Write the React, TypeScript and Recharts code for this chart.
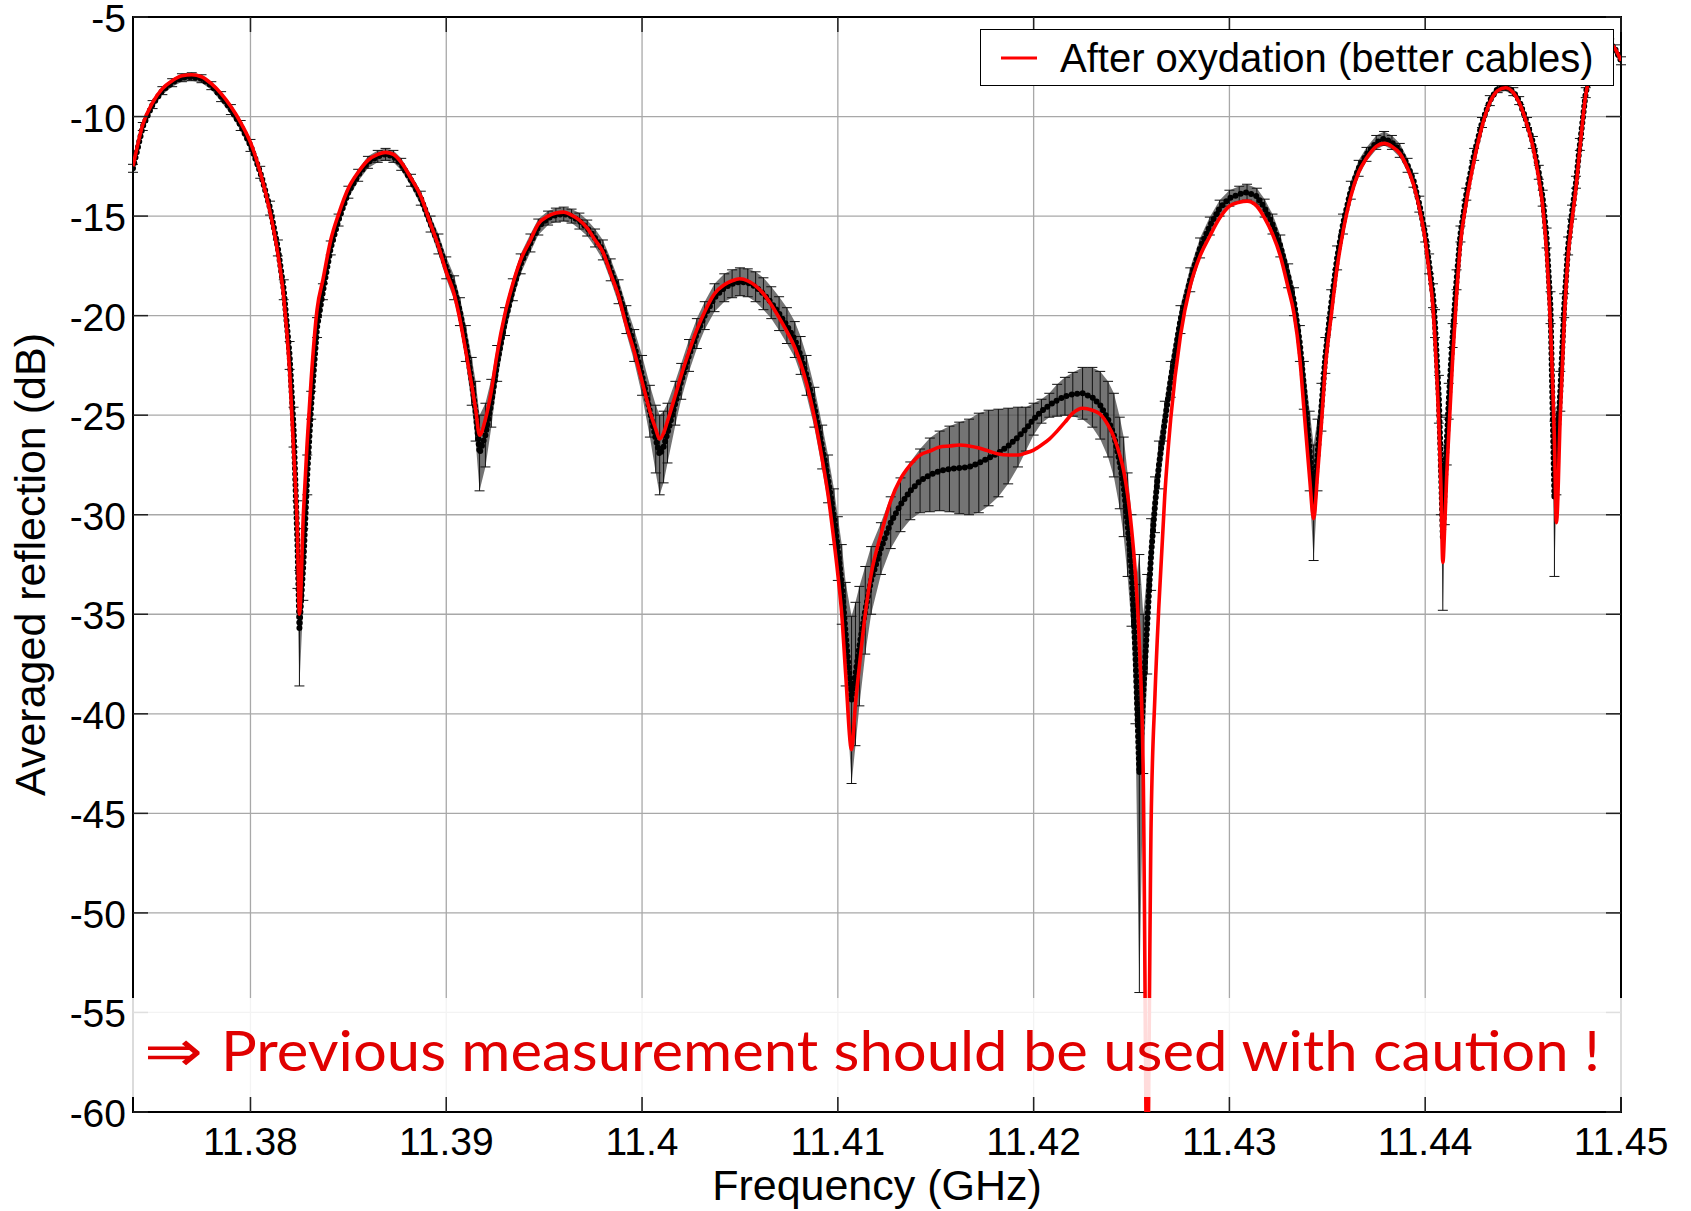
import React from 'react';
import {
  ComposedChart,
  Line,
  Area,
  XAxis,
  YAxis,
  CartesianGrid,
  Legend,
  ErrorBar,
  ReferenceArea,
  Label,
} from 'recharts';

// Frequency points (GHz), shared by both series
const freqGHz = [
  11.3740, 11.3745, 11.3750, 11.3755, 11.3760, 11.3765, 11.3770, 11.3775, 11.3780, 11.3785,
  11.3790, 11.3795, 11.3800, 11.3805, 11.3810, 11.3814, 11.3817, 11.3820, 11.3822, 11.3824,
  11.3825, 11.3827, 11.3829, 11.3831, 11.3834, 11.3837, 11.3841, 11.3845, 11.3850, 11.3855,
  11.3860, 11.3865, 11.3869, 11.3873, 11.3877, 11.3882, 11.3887, 11.3892, 11.3896, 11.3900,
  11.3904, 11.3907, 11.3910, 11.3913, 11.3915, 11.3917, 11.3920, 11.3923, 11.3926, 11.3930,
  11.3934, 11.3938, 11.3943, 11.3947, 11.3952, 11.3956, 11.3960, 11.3964, 11.3968, 11.3972,
  11.3976, 11.3980, 11.3984, 11.3988, 11.3992, 11.3996, 11.4000, 11.4004, 11.4007, 11.4009,
  11.4011, 11.4013, 11.4017, 11.4020, 11.4024, 11.4028, 11.4032, 11.4037, 11.4042, 11.4046,
  11.4050, 11.4054, 11.4058, 11.4062, 11.4066, 11.4070, 11.4074, 11.4078, 11.4081, 11.4084,
  11.4088, 11.4092, 11.4095, 11.4098, 11.4100, 11.4102, 11.4104, 11.4107, 11.4109, 11.4111,
  11.4114, 11.4117, 11.4122, 11.4127, 11.4132, 11.4137, 11.4142, 11.4147, 11.4152, 11.4157,
  11.4162, 11.4167, 11.4172, 11.4177, 11.4182, 11.4187, 11.4192, 11.4196, 11.4200, 11.4204,
  11.4208, 11.4212, 11.4216, 11.4220, 11.4225, 11.4230, 11.4234, 11.4238, 11.4241, 11.4244,
  11.4246, 11.4248, 11.4250, 11.4252, 11.4254, 11.4256, 11.4258, 11.4260, 11.4262, 11.4264,
  11.4267, 11.4270, 11.4275, 11.4280, 11.4285, 11.4290, 11.4295, 11.4300, 11.4305, 11.4309,
  11.4314, 11.4318, 11.4322, 11.4326, 11.4330, 11.4333, 11.4336, 11.4338, 11.4341, 11.4343,
  11.4345, 11.4347, 11.4349, 11.4352, 11.4355, 11.4358, 11.4362, 11.4366, 11.4370, 11.4375,
  11.4379, 11.4383, 11.4387, 11.4391, 11.4394, 11.4397, 11.4400, 11.4402, 11.4404, 11.4405,
  11.4407, 11.4408, 11.4409, 11.4410, 11.4411, 11.4412, 11.4414, 11.4416, 11.4418, 11.4421,
  11.4425, 11.4429, 11.4433, 11.4437, 11.4441, 11.4445, 11.4448, 11.4452, 11.4455, 11.4458,
  11.4460, 11.4462, 11.4464, 11.4466, 11.4467, 11.4469, 11.4471, 11.4473, 11.4475, 11.4477,
  11.4479, 11.4482, 11.4486, 11.4490, 11.4494, 11.4497, 11.4500,
];

// red curve: after oxydation (better cables), dB
const afterOxydationDb = [
  -12.5, -10.4, -9.3, -8.6, -8.2, -7.95, -7.9, -8.0, -8.35, -8.85,
  -9.5, -10.3, -11.3, -12.8, -14.8, -16.9, -19.1, -22.8, -26.7, -31.0,
  -35.0, -30.0, -26.3, -23.2, -19.7, -18.2, -16.2, -14.9, -13.6, -12.8,
  -12.2, -11.9, -11.8, -11.9, -12.3, -13.1, -14.0, -15.4, -16.5, -17.8,
  -18.9, -20.2, -21.8, -23.5, -24.7, -26.0, -25.2, -23.8, -21.9, -19.9,
  -18.4, -17.2, -16.2, -15.4, -15.0, -14.85, -14.8, -14.95, -15.2, -15.6,
  -16.2, -16.8, -17.9, -19.0, -20.5, -21.8, -23.3, -24.8, -25.7, -26.2,
  -25.9, -25.3, -24.0, -23.0, -21.8, -20.7, -19.8, -18.9, -18.45, -18.25,
  -18.15, -18.25, -18.5, -18.9, -19.45, -20.1, -20.8, -21.6, -22.4, -23.4,
  -25.1, -27.2, -29.0, -31.3, -33.0, -35.0, -38.0, -41.8, -39.5, -37.6,
  -35.0, -33.0, -31.0, -29.3, -28.2, -27.5, -27.0, -26.8, -26.6, -26.55,
  -26.5, -26.55, -26.65, -26.8, -26.95, -27.0, -27.0, -26.9, -26.75, -26.5,
  -26.2, -25.8, -25.35, -24.9, -24.65, -24.75, -24.95, -25.5, -26.1, -27.0,
  -27.8, -29.0, -30.7, -33.0, -36.5, -43.2, -64.0, -45.5, -39.0, -34.5,
  -29.0, -25.2, -21.0, -18.5, -17.0, -16.0, -15.1, -14.5, -14.3, -14.25,
  -14.5, -15.1, -15.9, -17.0, -18.6, -19.9, -22.2, -24.6, -28.2, -30.2,
  -28.0, -25.4, -22.6, -20.0, -17.6, -15.8, -14.0, -12.8, -12.1, -11.5,
  -11.35, -11.5, -11.85, -12.6, -13.4, -14.6, -16.2, -17.8, -19.6, -21.2,
  -25.5, -28.5, -32.4, -30.5, -28.0, -26.0, -22.2, -19.0, -16.4, -14.3,
  -12.2, -10.5, -9.3, -8.7, -8.55, -8.8, -9.3, -10.4, -11.5, -13.1,
  -14.5, -16.8, -20.6, -26.3, -30.4, -25.0, -20.3, -17.0, -15.2, -13.6,
  -11.6, -8.9, -7.3, -6.4, -6.3, -6.6, -7.2,
];

// black dots: averaged previous measurement, dB
const averagedDb = [
  -12.6, -10.5, -9.4, -8.7, -8.3, -8.05, -8.0, -8.1, -8.45, -9.0,
  -9.65, -10.45, -11.45, -12.8, -14.6, -16.6, -18.7, -22.0, -25.6, -31.5,
  -35.7, -32.5, -28.0, -24.5, -20.6, -18.8, -16.6, -15.2, -13.8, -12.95,
  -12.3, -12.0, -11.9, -12.0, -12.4, -13.2, -14.1, -15.4, -16.4, -17.6,
  -18.6, -19.8, -21.4, -23.3, -24.8, -26.9, -26.0, -24.4, -22.4, -20.3,
  -18.7, -17.4, -16.35, -15.55, -15.1, -14.95, -14.9, -15.0, -15.25, -15.6,
  -16.1, -16.7, -17.7, -18.8, -20.2, -21.5, -23.0, -24.8, -26.2, -27.0,
  -26.6, -25.9, -24.4, -23.3, -22.0, -20.9, -20.0, -19.1, -18.6, -18.4,
  -18.3, -18.35, -18.55, -18.9, -19.35, -19.9, -20.5, -21.2, -22.0, -23.0,
  -24.6, -26.6, -28.2, -30.1, -31.7, -33.5, -36.0, -39.3, -38.0, -36.6,
  -34.8, -33.3, -31.7, -30.4, -29.5, -28.8, -28.3, -28.0, -27.8, -27.7,
  -27.65, -27.6, -27.4, -27.15, -26.9, -26.55, -26.1, -25.7, -25.2, -24.8,
  -24.5, -24.25, -24.05, -23.95, -23.9, -24.1, -24.5, -25.2, -26.0, -27.4,
  -28.6, -30.5, -32.8, -37.0, -43.0, -39.0, -35.5, -32.0, -29.5, -27.5,
  -25.3, -23.2, -20.2, -18.2, -16.6, -15.5, -14.6, -14.1, -13.9, -13.8,
  -14.0, -14.6, -15.4, -16.5, -18.0, -19.3, -21.4, -23.5, -26.8, -29.4,
  -27.0, -24.6, -22.0, -19.4, -17.1, -15.4, -13.7, -12.6, -11.9, -11.3,
  -11.1, -11.3, -11.7, -12.45, -13.2, -14.4, -15.9, -17.4, -19.0, -20.4,
  -24.2, -27.5, -31.2, -28.5, -26.3, -24.3, -21.0, -18.2, -15.9, -13.9,
  -11.9, -10.3, -9.2, -8.6, -8.5, -8.75, -9.2, -10.3, -11.3, -12.8,
  -14.1, -16.1, -19.6, -29.2, -27.0, -23.8, -19.5, -16.5, -14.8, -13.3,
  -11.4, -8.8, -7.2, -6.35, -6.3, -6.6, -7.2,
];

// half width of the black error bars, dB
const averagedErr = [
  0.2, 0.2, 0.2, 0.2, 0.2, 0.2, 0.2, 0.2, 0.2, 0.25,
  0.25, 0.25, 0.3, 0.3, 0.35, 0.4, 0.5, 0.7, 1.0, 2.2,
  2.9, 1.8, 1.0, 0.7, 0.5, 0.4, 0.35, 0.3, 0.3, 0.3,
  0.3, 0.3, 0.3, 0.3, 0.3, 0.3, 0.35, 0.4, 0.5, 0.55,
  0.6, 0.7, 0.9, 1.2, 1.5, 1.9, 1.6, 1.2, 0.9, 0.7,
  0.55, 0.5, 0.45, 0.4, 0.35, 0.35, 0.35, 0.35, 0.4, 0.4,
  0.45, 0.5, 0.55, 0.6, 0.7, 0.8, 1.0, 1.3, 1.7, 2.0,
  1.8, 1.5, 1.1, 0.9, 0.8, 0.75, 0.7, 0.7, 0.7, 0.7,
  0.7, 0.7, 0.75, 0.8, 0.8, 0.85, 0.9, 0.9, 0.95, 1.0,
  1.0, 1.1, 1.2, 1.4, 1.6, 2.0, 2.6, 4.2, 3.6, 3.0,
  2.2, 1.7, 1.3, 1.3, 1.35, 1.45, 1.6, 1.85, 2.0, 2.15,
  2.3, 2.4, 2.5, 2.4, 2.2, 1.9, 1.5, 1.1, 0.8, 0.6,
  0.6, 0.8, 0.95, 1.1, 1.3, 1.5, 1.7, 1.9, 2.1, 2.3,
  2.5, 2.6, 2.8, 3.5, 11.0, 4.0, 2.5, 1.8, 1.4, 1.2,
  1.0, 0.9, 0.7, 0.6, 0.5, 0.45, 0.4, 0.4, 0.4, 0.4,
  0.4, 0.45, 0.5, 0.55, 0.6, 0.7, 0.9, 1.2, 2.0, 2.9,
  1.8, 1.2, 0.9, 0.7, 0.6, 0.5, 0.45, 0.4, 0.35, 0.35,
  0.35, 0.35, 0.35, 0.35, 0.35, 0.4, 0.4, 0.5, 0.6, 0.7,
  1.2, 2.5, 3.6, 2.0, 1.2, 0.9, 0.6, 0.5, 0.4, 0.3,
  0.3, 0.25, 0.25, 0.2, 0.2, 0.2, 0.2, 0.25, 0.3, 0.35,
  0.4, 0.5, 0.8, 3.9, 2.0, 1.0, 0.6, 0.45, 0.35, 0.3,
  0.3, 0.25, 0.2, 0.2, 0.2, 0.2, 0.2,
];

const xTicks = [11.38, 11.39, 11.4, 11.41, 11.42, 11.43, 11.44, 11.45];
const yTicks = [-60, -55, -50, -45, -40, -35, -30, -25, -20, -15, -10, -5];
const xDomain: [number, number] = [11.374, 11.45];
const yDomain: [number, number] = [-60, -5];

const W = 1691;
const H = 1211;
const PLOT = { left: 133, right: 1621, top: 17, bottom: 1112 };
const FONT = '"Liberation Sans", Arial, sans-serif';
const NOTE_RED = '#e00000';

const rows = freqGHz.map((f, i) => ({
  f,
  red: afterOxydationDb[i],
  black: averagedDb[i],
  err: averagedErr[i],
  band: [averagedDb[i] - averagedErr[i], averagedDb[i] + averagedErr[i]],
}));

const fmtFreq = (v: number) => String(parseFloat(v.toFixed(3)));

// MATLAB style: inward ticks on both sides of the box
const YTick = ({ x, y, payload }: any) => (
  <g>
    <line x1={PLOT.left} x2={PLOT.left + 15} y1={y} y2={y} stroke="#222" strokeWidth={1.5} />
    <line x1={PLOT.right - 15} x2={PLOT.right} y1={y} y2={y} stroke="#222" strokeWidth={1.5} />
    <text x={x} y={y + 15} textAnchor="end" fontSize={39} fontFamily={FONT} fill="#000">
      {payload.value}
    </text>
  </g>
);

const XTick = ({ x, payload }: any) => (
  <g>
    <line x1={x} x2={x} y1={PLOT.bottom - 15} y2={PLOT.bottom} stroke="#222" strokeWidth={1.5} />
    <line x1={x} x2={x} y1={PLOT.top} y2={PLOT.top + 15} stroke="#222" strokeWidth={1.5} />
    <text x={x} y={PLOT.bottom + 43} textAnchor="middle" fontSize={39} fontFamily={FONT} fill="#000">
      {fmtFreq(payload.value)}
    </text>
  </g>
);

// only the red series appears in the legend
const LegendBox = ({ payload }: any) => (
  <div
    style={{
      width: 634,
      height: 57,
      boxSizing: 'border-box',
      border: '1.5px solid #000',
      background: '#fff',
      display: 'flex',
      alignItems: 'center',
      whiteSpace: 'nowrap',
    }}
  >
    {(payload || [])
      .filter((p: any) => p.dataKey === 'red')
      .map((p: any) => (
        <div key={p.value} style={{ display: 'flex', alignItems: 'center' }}>
          <svg width={36} height={4} style={{ marginLeft: 20 }}>
            <line x1={0} x2={36} y1={2} y2={2} stroke={p.color} strokeWidth={3} />
          </svg>
          <span style={{ marginLeft: 23, fontFamily: FONT, fontSize: 40, color: '#000', lineHeight: '46px' }}>
            {p.value}
          </span>
        </div>
      ))}
  </div>
);

const App: React.FC = () => {
  return (
    <div style={{ position: 'absolute', left: 0, top: 0, width: W, height: H, background: '#fff' }}>
      <ComposedChart width={W} height={H} data={rows} margin={{ top: PLOT.top, right: W - PLOT.right, left: 0, bottom: 0 }}>
        <CartesianGrid stroke="#a8a8a8" strokeWidth={1.3} />
        <XAxis
          dataKey="f"
          type="number"
          domain={xDomain}
          ticks={xTicks}
          interval={0}
          allowDataOverflow
          height={H - PLOT.bottom}
          axisLine={false}
          tickLine={false}
          tickSize={0}
          tickMargin={0}
          tick={<XTick />}
        >
          <Label
            content={({ viewBox }: any) => (
              <text x={viewBox.x + viewBox.width / 2} y={viewBox.y + 88} textAnchor="middle" fontSize={43} fontFamily={FONT} fill="#000">
                Frequency (GHz)
              </text>
            )}
          />
        </XAxis>
        <YAxis
          type="number"
          domain={yDomain}
          ticks={yTicks}
          interval={0}
          allowDataOverflow
          width={PLOT.left}
          axisLine={false}
          tickLine={false}
          tickSize={0}
          tickMargin={7}
          tick={<YTick />}
        >
          <Label
            content={({ viewBox }: any) => {
              const cy = viewBox.y + viewBox.height / 2;
              return (
                <text x={45} y={cy} transform={`rotate(-90 45 ${cy})`} textAnchor="middle" fontSize={43} fontFamily={FONT} fill="#000">
                  Averaged reflection (dB)
                </text>
              );
            }}
          />
        </YAxis>
        <Legend
          layout="vertical"
          align="center"
          verticalAlign="middle"
          content={<LegendBox />}
          wrapperStyle={{ left: 980, top: 29, width: 634, height: 57 }}
        />
        <Area
          dataKey="band"
          type="linear"
          stroke="none"
          fill="#4d4d4d"
          fillOpacity={0.78}
          legendType="none"
          isAnimationActive={false}
          activeDot={false}
        />
        <Line
          dataKey="black"
          name="Previous measurement"
          type="linear"
          stroke="#000"
          strokeWidth={6}
          strokeDasharray="0 5.5"
          strokeLinecap="round"
          dot={false}
          activeDot={false}
          legendType="none"
          isAnimationActive={false}
        >
          <ErrorBar dataKey="err" direction="y" width={5} stroke="#111" strokeWidth={1} />
        </Line>
        <Line
          dataKey="red"
          name="After oxydation (better cables)"
          type="monotoneX"
          stroke="#ff0000"
          strokeWidth={3.6}
          dot={false}
          activeDot={false}
          isAnimationActive={false}
        />
        <ReferenceArea
          x1={xDomain[0]}
          x2={xDomain[1]}
          y1={yDomain[0]}
          y2={yDomain[1]}
          fill="none"
          stroke="#000"
          strokeWidth={2}
          ifOverflow="visible"
        />
      </ComposedChart>
      <svg width={W} height={H} style={{ position: 'absolute', left: 0, top: 0, pointerEvents: 'none' }}>
        <rect x={131} y={998} width={1495} height={99} fill="#fff" fillOpacity={0.86} />
        <text x={144} y={1071} fontSize={58} fontFamily='"DejaVu Sans", sans-serif' fill={NOTE_RED} textLength={59} lengthAdjust="spacingAndGlyphs">
          ⇒
        </text>
        <text x={221} y={1071} fontSize={57} fontFamily='Lato, "Open Sans", sans-serif' fill={NOTE_RED} textLength={1379} lengthAdjust="spacingAndGlyphs">
          Previous measurement should be used with caution !
        </text>
      </svg>
    </div>
  );
};

export default App;
